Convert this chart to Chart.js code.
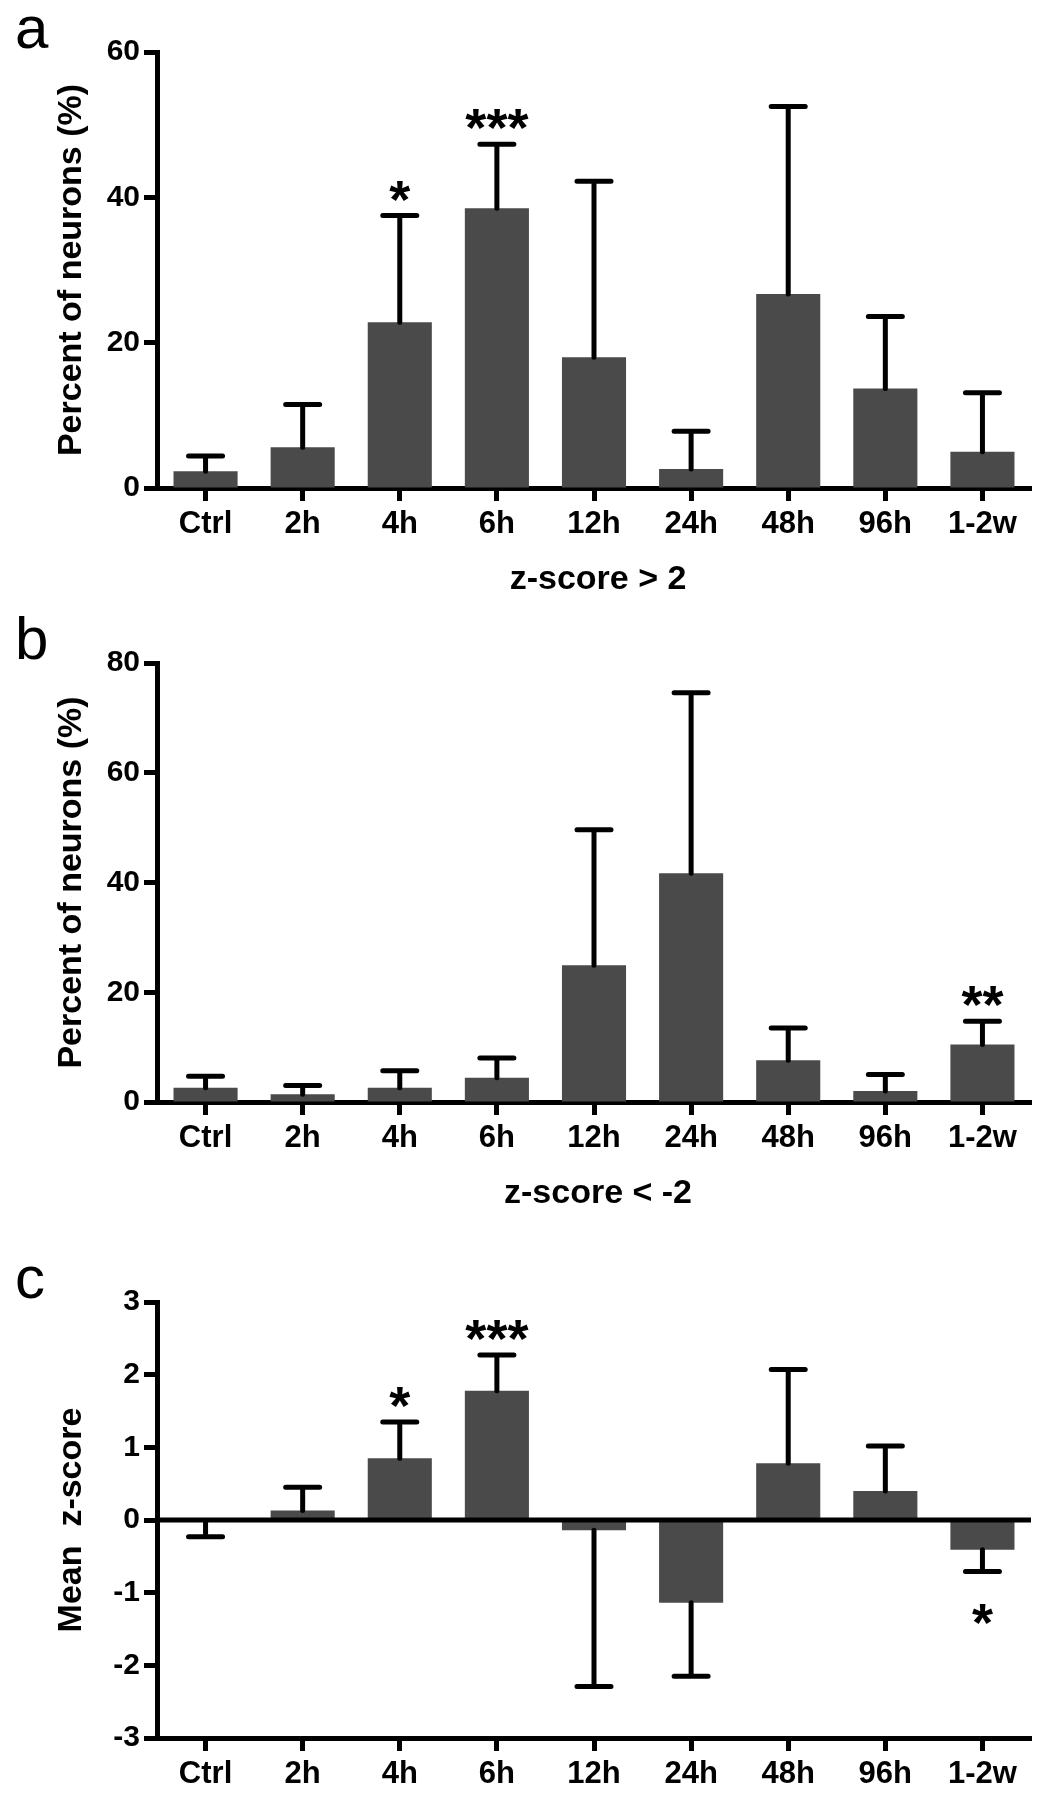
<!DOCTYPE html>
<html>
<head>
<meta charset="utf-8">
<script src="https://cdn.jsdelivr.net/npm/chart.js@4.4.1/dist/chart.umd.min.js"></script>
<style>
  body { margin: 0; background: #fff; }
  #wrap { position: relative; width: 1039px; height: 1800px; }
  canvas { position: absolute; left: 0; }
</style>
</head>
<body>
<div id="wrap">
  <canvas id="chartA" width="1039" height="600" style="top:0px"></canvas>
  <canvas id="chartB" width="1039" height="620" style="top:600px"></canvas>
  <canvas id="chartC" width="1039" height="580" style="top:1220px"></canvas>
</div>
<script>
const groups = ['Ctrl', '2h', '4h', '6h', '12h', '24h', '48h', '96h', '1-2w'];

// a: z-score > 2
const aMean  = [2.3, 5.6, 22.8, 38.5, 18.0, 2.6, 26.7, 13.7, 5.0];
const aErr   = [2.1, 5.9, 14.7, 8.8, 24.2, 5.2, 25.8, 9.9, 8.1];
const aStars = ['', '', '*', '***', '', '', '', '', ''];
const aTicks = [0, 60, 20];

// b: z-score < -2
const bMean  = [2.6, 1.4, 2.6, 4.4, 24.9, 41.7, 7.6, 2.0, 10.5];
const bErr   = [2.1, 1.6, 3.1, 3.6, 24.7, 32.9, 5.9, 3.0, 4.2];
const bStars = ['', '', '', '', '', '', '', '', '**'];
const bTicks = [0, 80, 20];

// c: mean z-score
const cMean  = [-0.01, 0.13, 0.85, 1.78, -0.14, -1.14, 0.78, 0.40, -0.41];
const cErr   = [0.22, 0.32, 0.50, 0.49, 2.15, 1.01, 1.29, 0.62, 0.30];
const cStars = ['', '', '*', '***', '', '', '', '', '*'];
const cTicks = [-3, 3, 1];

const FONT = "'Liberation Sans', Arial, Helvetica, sans-serif";

// draws error bars, stars, zero line, panel letter and titles
const decor = {
    id: 'decor',
    afterDatasetsDraw(chart, args, o){
        let ctx = chart.ctx;
        let area = chart.chartArea;
        let ys = chart.scales.y;
        let meta = chart.getDatasetMeta(0);
        ctx.save();

        if(o.zeroLine){
            ctx.strokeStyle = '#000';
            ctx.lineWidth = 5;
            ctx.beginPath();
            ctx.moveTo(area.left, ys.getPixelForValue(0));
            ctx.lineTo(area.right, ys.getPixelForValue(0));
            ctx.stroke();
        }

        ctx.strokeStyle = '#000';
        ctx.lineWidth = 5;
        ctx.lineCap = 'round';
        ctx.fillStyle = '#000';
        ctx.font = 'bold 54px ' + FONT;
        ctx.textAlign = 'center';
        ctx.textBaseline = 'alphabetic';

        for(let i = 0; i < o.mean.length; i++){
            let v = o.mean[i];
            let sign = v >= 0 ? 1 : -1;
            let x = meta.data[i].x;
            let y0 = ys.getPixelForValue(v);
            let y1 = ys.getPixelForValue(v + sign * o.err[i]);
            ctx.beginPath();
            ctx.moveTo(x, y0);
            ctx.lineTo(x, y1);
            ctx.moveTo(x - 17, y1);
            ctx.lineTo(x + 17, y1);
            ctx.stroke();

            if(o.stars[i]){
                if(sign > 0){
                    ctx.fillText(o.stars[i], x, y1 + 2);
                }
                else{
                    ctx.fillText(o.stars[i], x, y1 + 69);
                }
            }
        }

        // panel letter
        ctx.font = '60px ' + FONT;
        ctx.textAlign = 'left';
        ctx.fillText(o.letter, 15, area.top - 4);

        // y title
        ctx.font = 'bold 34px ' + FONT;
        ctx.textAlign = 'center';
        ctx.save();
        ctx.translate(81, (area.top + area.bottom) / 2);
        ctx.rotate(-Math.PI / 2);
        ctx.fillText(o.yTitle, 0, 0);
        ctx.restore();

        // x title
        if(o.xTitle){
            ctx.font = 'bold 34px ' + FONT;
            ctx.fillText(o.xTitle, (area.left + area.right) / 2 + 4, area.bottom + 101);
        }
        ctx.restore();
    }
};

function makeChart(id, mean, err, stars, ticks, letter, yTitle, xTitle, padTop, xHeight, zeroLine){
    return new Chart(document.getElementById(id), {
        type: 'bar',
        data: {
            labels: groups,
            datasets: [{
                data: mean,
                backgroundColor: '#4a4a4a',
                borderWidth: 0,
                barPercentage: 0.66,
                categoryPercentage: 1
            }]
        },
        options: {
            responsive: false,
            animation: false,
            events: [],
            layout: { padding: { top: padTop, left: 0, right: 8, bottom: 0 } },
            plugins: {
                legend: { display: false },
                tooltip: { enabled: false },
                decor: { mean: mean, err: err, stars: stars, letter: letter, yTitle: yTitle, xTitle: xTitle, zeroLine: zeroLine }
            },
            scales: {
                x: {
                    offset: true,
                    grid: { offset: false, drawOnChartArea: false, drawTicks: true, tickLength: 13, tickWidth: 5, tickColor: '#000' },
                    border: { display: true, color: '#000', width: 5 },
                    ticks: { color: '#000', font: { family: FONT, size: 31, weight: 'bold' }, padding: 5, maxRotation: 0, autoSkip: false },
                    afterFit: function(s){ s.height = xHeight; s.paddingLeft = 0; s.paddingRight = 0; }
                },
                y: {
                    min: ticks[0],
                    max: ticks[1],
                    ticks: { stepSize: ticks[2], color: '#000', font: { family: FONT, size: 30, weight: 'bold' }, padding: 4 },
                    grid: { drawOnChartArea: false, drawTicks: true, tickLength: 13, tickWidth: 5, tickColor: '#000' },
                    border: { display: true, color: '#000', width: 5 },
                    afterFit: function(s){ s.width = 157; s.paddingTop = 0; s.paddingBottom = 0; }
                }
            }
        },
        plugins: [decor]
    });
}

makeChart('chartA', aMean, aErr, aStars, aTicks, 'a', 'Percent of neurons (%)', 'z-score > 2', 52, 112, false);
makeChart('chartB', bMean, bErr, bStars, bTicks, 'b', 'Percent of neurons (%)', 'z-score < -2', 63, 118, false);
makeChart('chartC', cMean, cErr, cStars, cTicks, 'c', 'Mean  z-score', '', 82, 62, true);
</script>
</body>
</html>
